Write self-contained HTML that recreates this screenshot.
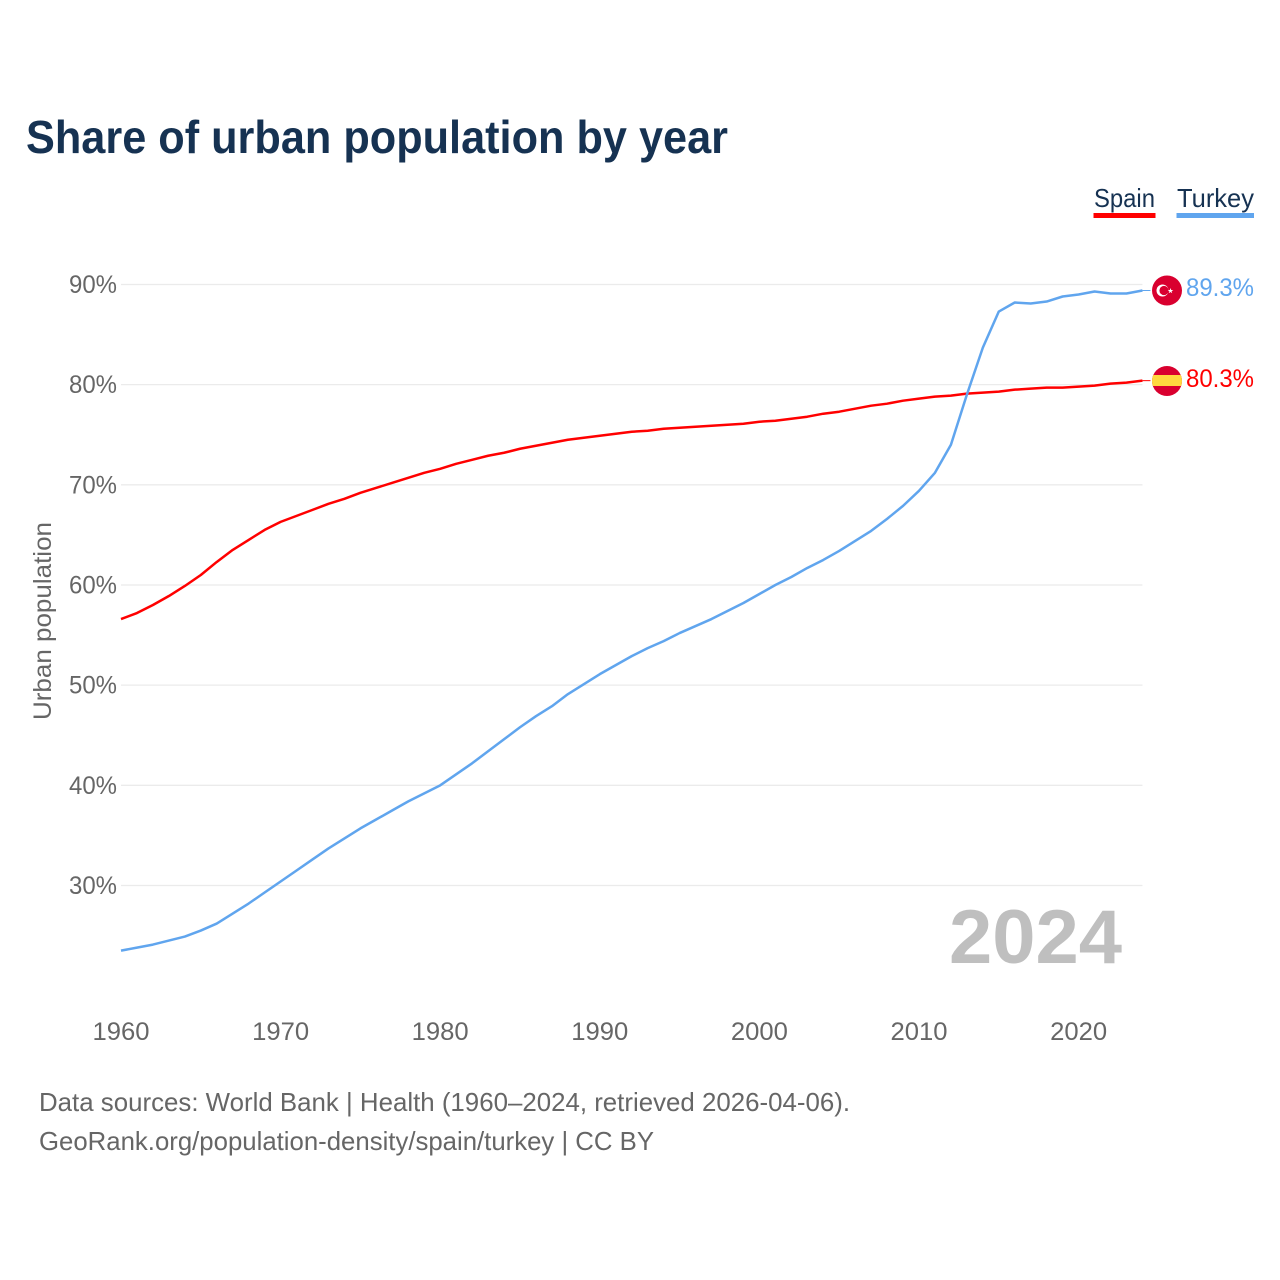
<!DOCTYPE html>
<html lang="en">
<head>
<meta charset="utf-8">
<title>Share of urban population by year</title>
<style>
html,body{margin:0;padding:0;background:#fff;}
svg{display:block;font-family:"Liberation Sans",Arial,sans-serif;}
</style>
</head>
<body>
<svg id="chart" width="1280" height="1280" viewBox="0 0 1280 1280" xmlns="http://www.w3.org/2000/svg">
  <rect width="1280" height="1280" fill="#ffffff"/>
  <text x="26" y="153" font-size="46" font-weight="700" fill="#163252" textLength="702" lengthAdjust="spacingAndGlyphs">Share of urban population by year</text>

  <g>
    <g>
      <text x="1094" y="207" font-size="26" fill="#163252" textLength="61" lengthAdjust="spacingAndGlyphs">Spain</text>
      <rect x="1093.500" y="213" width="62" height="5" fill="#ff0000"/>
    </g>
    <g>
      <text x="1177" y="207" font-size="26" fill="#163252" textLength="77" lengthAdjust="spacingAndGlyphs">Turkey</text>
      <rect x="1176.500" y="213" width="77.500" height="5" fill="#60a5ee"/>
    </g>
  </g>

  <g id="grid"></g>
  <g id="yticks"></g>
  <g id="xticks"></g>

  <text transform="translate(51,621) rotate(-90)" text-anchor="middle" font-size="25" fill="#666666" textLength="198" lengthAdjust="spacingAndGlyphs">Urban population</text>

  <text x="1122" y="963" text-anchor="end" font-size="76" font-weight="700" fill="#bfbfbf" textLength="173" lengthAdjust="spacingAndGlyphs">2024</text>

  <g id="series"></g>

  <g>
    <circle cx="1167" cy="290.500" r="15" fill="#d9002f"/>
    <circle cx="1162.500" cy="290.500" r="6" fill="#ffffff"/>
    <circle cx="1164" cy="290.500" r="4.600" fill="#d9002f"/>
    <polygon points="1170.500,288 1171.200,290 1173.300,290 1171.600,291.200 1172.200,293.200 1170.500,292 1168.800,293.200 1169.400,291.200 1167.700,290 1169.800,290" fill="#ffffff"/>
  </g>
  <g>
    <clipPath id="spain-clip"><circle cx="1167" cy="381" r="15"/></clipPath>
    <circle cx="1167" cy="381" r="15" fill="#d9002f"/>
    <rect x="1152" y="375" width="30" height="11" fill="#ffd83f" clip-path="url(#spain-clip)"/>
  </g>

  <text id="label-turkey" x="1186" y="296" font-size="25" fill="#60a5ee" textLength="68" lengthAdjust="spacingAndGlyphs">89.3%</text>
  <text id="label-spain" x="1186" y="387" font-size="25" fill="#ff0000" textLength="68" lengthAdjust="spacingAndGlyphs">80.3%</text>

  <text x="39" y="1111" font-size="26" fill="#666666" textLength="811" lengthAdjust="spacingAndGlyphs">Data sources: World Bank | Health (1960–2024, retrieved 2026-04-06).</text>
  <text x="39" y="1150" font-size="26" fill="#666666" textLength="615" lengthAdjust="spacingAndGlyphs">GeoRank.org/population-density/spain/turkey | CC BY</text>
</svg>
<script>
const startYear = 1960;
const yTickValues = [30, 40, 50, 60, 70, 80, 90];
const xTickValues = [1960, 1970, 1980, 1990, 2000, 2010, 2020];
const spainValues = [56.6,57.2,58.0,58.9,59.9,61.0,62.3,63.5,64.5,65.5,66.3,66.9,67.5,68.1,68.6,69.2,69.7,70.2,70.7,71.2,71.6,72.1,72.5,72.9,73.2,73.6,73.9,74.2,74.5,74.7,74.9,75.1,75.3,75.4,75.6,75.7,75.8,75.9,76.0,76.1,76.3,76.4,76.6,76.8,77.1,77.3,77.6,77.9,78.1,78.4,78.6,78.8,78.9,79.1,79.2,79.3,79.5,79.6,79.7,79.7,79.8,79.9,80.1,80.2,80.4];
const turkeyValues = [23.5,23.8,24.1,24.5,24.9,25.5,26.2,27.2,28.2,29.3,30.4,31.5,32.6,33.7,34.7,35.7,36.6,37.5,38.4,39.2,40.0,41.1,42.2,43.4,44.6,45.8,46.9,47.9,49.1,50.1,51.1,52.0,52.9,53.7,54.4,55.2,55.9,56.6,57.4,58.2,59.1,60.0,60.8,61.7,62.5,63.4,64.4,65.4,66.6,67.9,69.4,71.2,74.0,79.0,83.7,87.3,88.2,88.1,88.3,88.8,89.0,89.3,89.1,89.1,89.4];

const NS = 'http://www.w3.org/2000/svg';
const xScale = function (year) { return 121 + (year - startYear) * 15.96; };
const yScale = function (value) { return 885.5 - (value - 30) * 10.017; };

const gridGroup = document.getElementById('grid');
const yTickGroup = document.getElementById('yticks');
const xTickGroup = document.getElementById('xticks');
const seriesGroup = document.getElementById('series');
const lastX = xScale(startYear + spainValues.length - 1);

yTickValues.forEach(function (value) {
  const line = document.createElementNS(NS, 'line');
  
  
  line.setAttribute('x1', 121);
  line.setAttribute('x2', lastX);
  line.setAttribute('y1', yScale(value));
  line.setAttribute('y2', yScale(value));
  line.setAttribute('stroke', '#ebebeb');
  line.setAttribute('stroke-width', '1.300');
  gridGroup.appendChild(line);

  const label = document.createElementNS(NS, 'text');
  
  
  label.setAttribute('x', 117);
  label.setAttribute('y', yScale(value) + 8.500);
  label.setAttribute('text-anchor', 'end');
  label.setAttribute('font-size', '25');
  label.setAttribute('fill', '#666666');
  label.setAttribute('textLength', '48');
  label.setAttribute('lengthAdjust', 'spacingAndGlyphs');
  label.textContent = value + '%';
  yTickGroup.appendChild(label);
});

xTickValues.forEach(function (year) {
  const label = document.createElementNS(NS, 'text');
  
  
  label.setAttribute('x', xScale(year));
  label.setAttribute('y', 1040);
  label.setAttribute('text-anchor', 'middle');
  label.setAttribute('font-size', '25');
  label.setAttribute('fill', '#666666');
  label.setAttribute('textLength', '57');
  label.setAttribute('lengthAdjust', 'spacingAndGlyphs');
  label.textContent = year;
  xTickGroup.appendChild(label);
});

function drawSeries(values, color, lineName, connectorName) {
  const pts = values.map(function (v, i) {
    return xScale(startYear + i).toFixed(2) + ',' + yScale(v).toFixed(2);
  }).join(' ');
  const path = document.createElementNS(NS, 'polyline');
  
  
  path.setAttribute('points', pts);
  path.setAttribute('fill', 'none');
  path.setAttribute('stroke', color);
  path.setAttribute('stroke-width', '2.500');
  path.setAttribute('stroke-linejoin', 'round');
  seriesGroup.appendChild(path);

  const last = values[values.length - 1];
  const conn = document.createElementNS(NS, 'line');
  
  
  conn.setAttribute('x1', lastX);
  conn.setAttribute('x2', lastX + 8);
  conn.setAttribute('y1', yScale(last));
  conn.setAttribute('y2', yScale(last));
  conn.setAttribute('stroke', color);
  conn.setAttribute('stroke-width', '1');
  seriesGroup.appendChild(conn);
}

drawSeries(spainValues, '#ff0000', 'line-spain', 'connector-spain');
drawSeries(turkeyValues, '#60a5ee', 'line-turkey', 'connector-turkey');
</script>
</body>
</html>
